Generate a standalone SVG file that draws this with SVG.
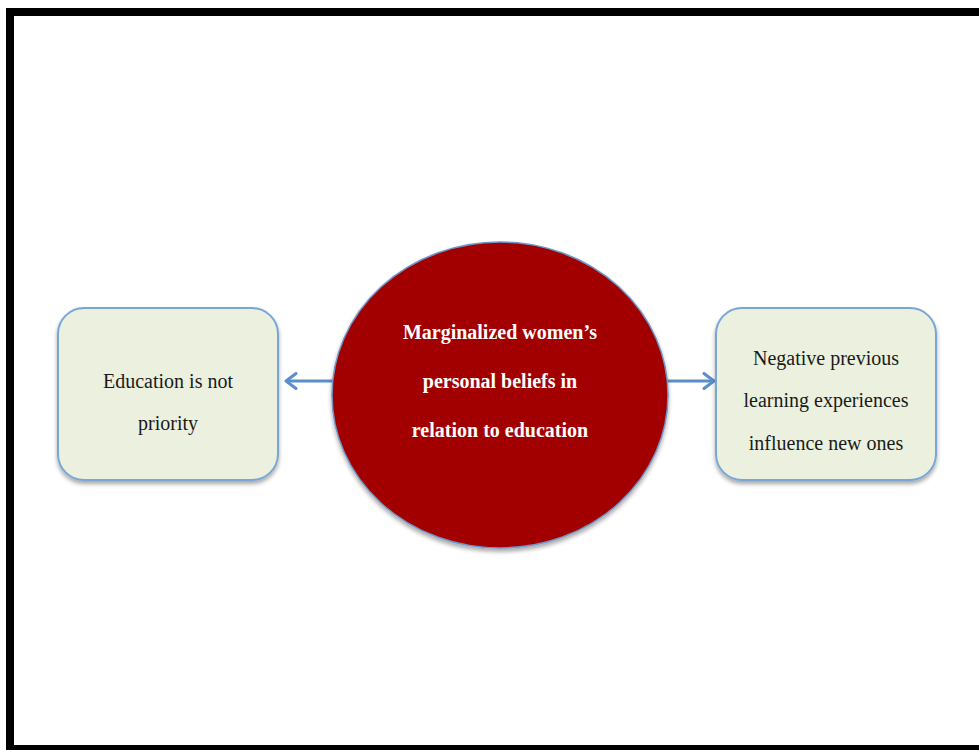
<svg xmlns="http://www.w3.org/2000/svg" width="979" height="750" viewBox="0 0 979 750">
<defs>
<filter id="sh" x="-10%" y="-10%" width="120%" height="130%">
<feGaussianBlur in="SourceAlpha" stdDeviation="2"/>
<feOffset dx="0" dy="3"/>
<feComponentTransfer><feFuncA type="linear" slope="0.35"/></feComponentTransfer>
<feMerge><feMergeNode/><feMergeNode in="SourceGraphic"/></feMerge>
</filter>
<marker id="ah" viewBox="0 0 16 18" refX="14" refY="9" markerWidth="16" markerHeight="18" markerUnits="userSpaceOnUse" orient="auto">
<path d="M4,1.5 L14,9 L4,16.5" fill="none" stroke="#5b8fcc" stroke-width="3" stroke-linecap="round" stroke-linejoin="round"/>
</marker>
</defs>
<style>
.box{fill:#ebf1de;stroke:#7aa6d6;stroke-width:2}
.t{font-family:"Liberation Serif","DejaVu Serif",serif;font-size:20px;text-anchor:middle}
.dark{fill:#1a1a1a}
.light{fill:#ffffff}
.conn{stroke:#5b8fcc;stroke-width:3;fill:none}
</style>
<rect width="979" height="750" fill="#ffffff"/>
<path d="M10,750 L10,12 L979,12" fill="none" stroke="#000" stroke-width="8"/>
<rect x="6" y="745" width="973" height="5" fill="#000"/>
<g id="connectors">
<line class="conn" x1="332" y1="381" x2="286" y2="381" marker-end="url(#ah)"/>
<line class="conn" x1="668" y1="381" x2="714" y2="381" marker-end="url(#ah)"/>
</g>
<g id="left">
<rect class="box" x="58" y="308" width="220" height="172" rx="26" filter="url(#sh)"/>
<text class="t dark" x="168" y="388">Education is not</text>
<text class="t dark" x="168" y="430">priority</text>
</g>
<g id="center">
<ellipse cx="500" cy="395" rx="168" ry="153" fill="#a20000" stroke="#6d95c8" stroke-width="1.5" filter="url(#sh)"/>
<text class="t light" x="500" y="339" font-weight="bold">Marginalized women’s</text>
<text class="t light" x="500" y="388" font-weight="bold">personal beliefs in</text>
<text class="t light" x="500" y="437" font-weight="bold">relation to education</text>
</g>
<g id="right">
<rect class="box" x="716" y="308" width="220" height="172" rx="26" filter="url(#sh)"/>
<text class="t dark" x="826" y="365">Negative previous</text>
<text class="t dark" x="826" y="407">learning experiences</text>
<text class="t dark" x="826" y="450">influence new ones</text>
</g>
</svg>
